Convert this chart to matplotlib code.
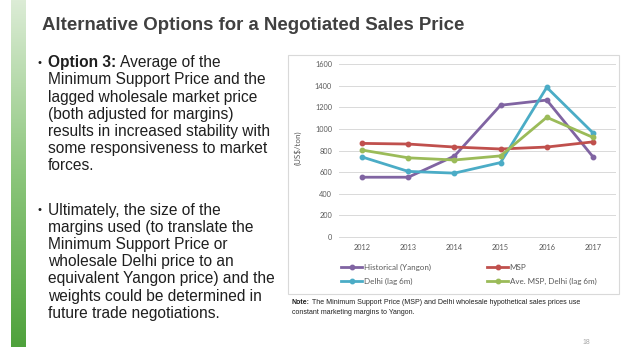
import matplotlib
matplotlib.use('Agg')
import matplotlib.pyplot as plt
from matplotlib.patches import Rectangle
import numpy as np

# chart data
years = ['2012', '2013', '2014', '2015', '2016', '2017']
historical = [552, 552, 748, 1220, 1268, 742]
msp = [866, 860, 832, 814, 832, 880]
delhi = [740, 606, 590, 688, 1386, 964]
ave_msp_delhi = [804, 732, 712, 750, 1108, 922]

series_names = ['Historical (Yangon)', 'MSP', 'Delhi (lag 6m)', 'Ave. MSP, Delhi (lag 6m)']
series_colors = ['#8064a2', '#c0504d', '#4bacc6', '#9bbb59']

title = 'Alternative Options for a Negotiated Sales Price'
bullet1 = ['Average of the', 'Minimum Support Price and the', 'lagged wholesale market price',
           '(both adjusted for margins)', 'results in increased stability with',
           'some responsiveness to market', 'forces.']
bullet2 = ['Ultimately, the size of the', 'margins used (to translate the',
           'Minimum Support Price or', 'wholesale Delhi price to an',
           'equivalent Yangon price) and the', 'weights could be determined in',
           'future trade negotiations.']
note_lines = ['The Minimum Support Price (MSP) and Delhi wholesale hypothetical sales prices use',
              'constant marketing margins to Yangon.']

W, H = 638, 359


def fx(px):
    return px / W


def fy(py):
    return 1 - py / H


fig = plt.figure(figsize=(W / 100, H / 100), dpi=100)
fig.patch.set_facecolor('white')
plt.rcParams['font.family'] = ['Liberation Sans', 'DejaVu Sans']
chart_font = ['Lato', 'DejaVu Sans']

# green gradient bar on the left
grad_ax = fig.add_axes([fx(11), fy(347), fx(25) - fx(11), fy(0) - fy(347)])
grad = np.linspace(0, 1, 256).reshape(-1, 1)
cmap = matplotlib.colors.LinearSegmentedColormap.from_list('g', ['#dcecd6', '#8cc67c', '#4fa23c'])
grad_ax.imshow(grad, aspect='auto', cmap=cmap, extent=[0, 1, 1, 0])
grad_ax.axis('off')

# title
fig.text(fx(42), fy(25), title, fontsize=13.4, fontweight='bold', color='#404040',
         va='center', ha='left')

# bullets
line_h = 17.2
fig.canvas.draw()
renderer = fig.canvas.get_renderer()
fs = 11.2
txt_col = '#1f1f1f'
fig.text(fx(38), fy(63), '\u2022', fontsize=8, va='center', ha='left', color=txt_col)
t = fig.text(fx(48), fy(62.7), 'Option 3:', fontsize=fs, fontweight='bold', va='center',
             ha='left', color=txt_col)
opt_w = t.get_window_extent(renderer).width
for i, line in enumerate(bullet1):
    x0 = 48 + opt_w + 4 if i == 0 else 48
    fig.text(fx(x0), fy(62.7 + i * line_h), line, fontsize=fs, va='center', ha='left',
             color=txt_col)

fig.text(fx(38), fy(210.3), '\u2022', fontsize=8, va='center', ha='left', color=txt_col)
for i, line in enumerate(bullet2):
    fig.text(fx(48), fy(210 + i * line_h), line, fontsize=fs, va='center', ha='left',
             color=txt_col)

# chart frame
fig.patches.append(Rectangle((fx(288), fy(294)), fx(619) - fx(288), fy(55) - fy(294),
                             transform=fig.transFigure, fill=False, edgecolor='#d9d9d9',
                             linewidth=0.8))

ax = fig.add_axes([fx(339), fy(236.7), fx(616) - fx(339), fy(64.3) - fy(236.7)])
x = np.arange(len(years))
all_series = [historical, msp, delhi, ave_msp_delhi]
handles = []
for vals, name, col in zip(all_series, series_names, series_colors):
    h, = ax.plot(x, vals, color=col, lw=2.0, marker='o', markersize=3.2, label=name)
    handles.append(h)

ax.set_xlim(-0.5, len(years) - 0.5)
ax.set_ylim(0, 1600)
ax.set_yticks(np.arange(0, 1601, 200))
ax.set_xticks(x)
ax.set_xticklabels(years)
ax.grid(axis='y', color='#d9d9d9', lw=0.7)
ax.set_axisbelow(True)
for s in ['top', 'right', 'left']:
    ax.spines[s].set_visible(False)
ax.spines['bottom'].set_color('#d9d9d9')
ax.spines['bottom'].set_linewidth(0.7)
ax.tick_params(length=0, labelsize=5.3, labelcolor='#595959', pad=5)
for lab in ax.get_xticklabels() + ax.get_yticklabels():
    lab.set_family(chart_font)
fig.text(fx(298), fy(148), '(US$/ton)', fontsize=5.8, color='#595959', family=chart_font,
         rotation=90, va='center', ha='center')

# legend: row 1 Historical, MSP; row 2 Delhi, Ave.
order = [0, 2, 1, 3]
leg = fig.legend([handles[i] for i in order], [series_names[i] for i in order],
                 ncol=2, loc='upper left', bbox_to_anchor=(fx(338), fy(260.5)),
                 frameon=False, handlelength=2.6, columnspacing=7.0,
                 labelspacing=0.85, handletextpad=0.2, borderaxespad=0,
                 prop={'family': chart_font, 'size': 5.8})
for txt in leg.get_texts():
    txt.set_color('#595959')

# note
note_fs = 5.0
nt = fig.text(fx(292), fy(302.5), 'Note:', fontsize=note_fs, fontweight='bold', va='center',
              ha='left', color=txt_col)
nw = nt.get_window_extent(renderer).width
fig.text(fx(292 + nw + 2), fy(302.5), note_lines[0], fontsize=note_fs, va='center', ha='left',
         color=txt_col)
fig.text(fx(292), fy(313), note_lines[1], fontsize=note_fs, va='center', ha='left',
         color=txt_col)

fig.text(fx(586), fy(343), '18', fontsize=5, color='#a6a6a6', va='center', ha='center')

fig.savefig('out.png', dpi=100)
